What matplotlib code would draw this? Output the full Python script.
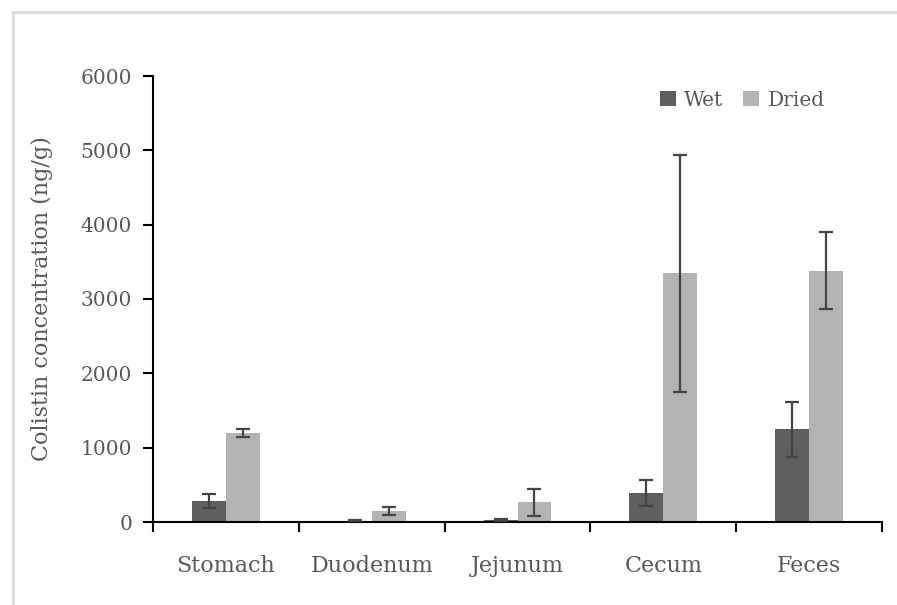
import matplotlib
matplotlib.use("Agg")
import matplotlib.pyplot as plt
from matplotlib.lines import Line2D
from matplotlib.patches import Patch
import numpy as np

categories = ["Stomach", "Duodenum", "Jejunum", "Cecum", "Feces"]
wet = [280, 20, 25, 390, 1245]
wet_err = [95, 10, 15, 170, 375]
dried = [1200, 145, 265, 3345, 3380]
dried_err = [55, 55, 180, 1590, 515]
yticks = [0, 1000, 2000, 3000, 4000, 5000, 6000]

wet_color = "#5f5f5f"
dried_color = "#b3b3b3"
err_color = "#454545"
text_color = "#595959"
font = "DejaVu Serif"

fig = plt.figure(figsize=(8.97, 6.05), dpi=100)
ax = fig.add_axes([153/897, 1-522/605, 729/897, 446/605])

x = np.arange(len(categories))
bw = 0.233
ax.bar(x - bw/2, wet, width=bw, color=wet_color, zorder=2)
ax.bar(x + bw/2, dried, width=bw, color=dried_color, zorder=2)
ax.errorbar(x - bw/2, wet, yerr=wet_err, fmt="none", ecolor=err_color,
            elinewidth=1.6, capsize=5, capthick=1.6, zorder=3)
ax.errorbar(x + bw/2, dried, yerr=dried_err, fmt="none", ecolor=err_color,
            elinewidth=1.6, capsize=5, capthick=1.6, zorder=3)

ax.set_xlim(-0.5, len(categories) - 0.5)
ax.set_ylim(0, 6000)
ax.set_yticks(yticks)
ax.set_yticklabels([str(v) for v in yticks], fontsize=14.5, family=font, color=text_color)
ax.set_xticks(x)
ax.set_xticklabels(categories, fontsize=16, family=font, color=text_color)
ax.set_xticks(np.arange(len(categories) + 1) - 0.5, minor=True)
ax.tick_params(axis="x", which="major", length=0, pad=24)
ax.tick_params(axis="x", which="minor", length=7, width=1.5, color="black", direction="out")
ax.tick_params(axis="y", which="major", length=7, width=1.5, color="black", direction="out", pad=8)

for s in ["top", "right"]:
    ax.spines[s].set_visible(False)
for s in ["left", "bottom"]:
    ax.spines[s].set_linewidth(1.5)
    ax.spines[s].set_color("black")

ax.set_ylabel("Colistin concentration (ng/g)", fontsize=16, family=font,
              color=text_color, labelpad=20)

handles = [Patch(facecolor=wet_color, label="Wet"), Patch(facecolor=dried_color, label="Dried")]
leg = ax.legend(handles=handles, loc="center left", bbox_to_anchor=(0.695, 0.946),
                ncol=2, frameon=False, handlelength=0.8, handleheight=0.8,
                handletextpad=0.4, columnspacing=1.0, borderpad=0, borderaxespad=0,
                prop={"family": font, "size": 14.5})
for t in leg.get_texts():
    t.set_color(text_color)

# light grey frame around the figure (top and left edges visible)
fig.add_artist(Line2D([13/897, 13/897], [0, 1-12/605], transform=fig.transFigure,
                      color="#dcdcdc", linewidth=2))
fig.add_artist(Line2D([13/897, 1], [1-12/605, 1-12/605], transform=fig.transFigure,
                      color="#dcdcdc", linewidth=2))

fig.savefig("out.png", dpi=100)
